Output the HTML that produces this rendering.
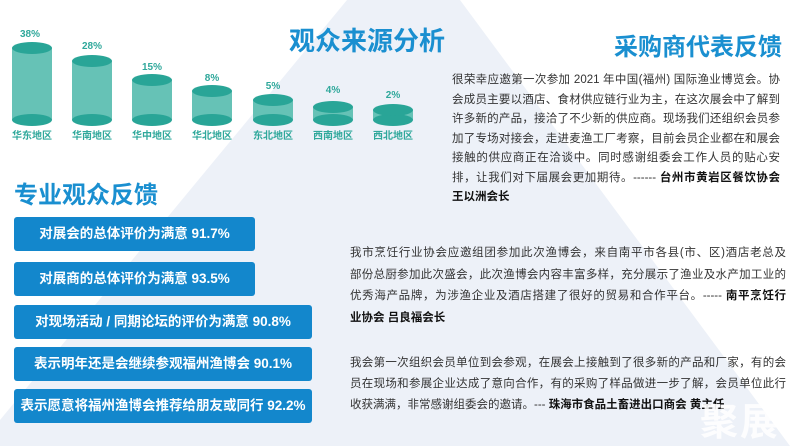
<!DOCTYPE html>
<html><head><meta charset="utf-8"><style>
html,body{margin:0;padding:0;}
body{width:800px;height:446px;overflow:hidden;position:relative;background:#fff;font-family:"Liberation Sans","Noto Sans CJK SC",sans-serif;}
svg{position:absolute;left:0;top:0;}
.t{position:absolute;font-weight:bold;color:#1a8fd0;white-space:nowrap;}
.box{position:absolute;left:14px;height:34px;background:#1387cc;border-radius:3px;color:#fff;font-weight:bold;font-size:13.5px;line-height:34px;text-align:center;}
.p{position:absolute;font-size:11.5px;color:#333;}
.p div{white-space:nowrap;text-align:justify;text-align-last:justify;}
.p div.l{text-align-last:left;}
.p b{color:#111;}
</style></head><body>
<svg width="800" height="446">
<polygon points="347,0 460,0 790,446 0,446 0,420" fill="#edf1f8"/>
<g font-family="Liberation Sans,Noto Sans CJK SC,sans-serif" font-weight="bold" text-anchor="middle">
<g fill="#66c2b6">
<rect x="12" y="48" width="40" height="72"/>
<rect x="72" y="61" width="40" height="59"/>
<rect x="132" y="80" width="40" height="40"/>
<rect x="192" y="91" width="40" height="29"/>
<rect x="253" y="100" width="40" height="20"/>
<rect x="313" y="107" width="40" height="13"/>
<rect x="373" y="110" width="40" height="10"/>
</g>
<g fill="#29a597">
<ellipse cx="32" cy="120" rx="20" ry="6"/><ellipse cx="32" cy="48" rx="20" ry="6"/>
<ellipse cx="92" cy="120" rx="20" ry="6"/><ellipse cx="92" cy="61" rx="20" ry="6"/>
<ellipse cx="152" cy="120" rx="20" ry="6"/><ellipse cx="152" cy="80" rx="20" ry="6"/>
<ellipse cx="212" cy="120" rx="20" ry="6"/><ellipse cx="212" cy="91" rx="20" ry="6"/>
<ellipse cx="273" cy="120" rx="20" ry="6"/><ellipse cx="273" cy="100" rx="20" ry="6"/>
<ellipse cx="333" cy="120" rx="20" ry="6"/><ellipse cx="333" cy="107" rx="20" ry="6"/>
<ellipse cx="393" cy="120" rx="20" ry="6"/><ellipse cx="393" cy="110" rx="20" ry="6"/>
</g>
<g fill="#2fa89b" font-size="10">
<text x="30" y="37">38%</text><text x="92" y="49">28%</text><text x="152" y="70">15%</text>
<text x="212" y="81">8%</text><text x="273" y="89">5%</text><text x="333" y="93">4%</text><text x="393" y="98">2%</text>
</g>
<g fill="#2fa89b" font-size="10">
<text x="32" y="139">华东地区</text><text x="92" y="139">华南地区</text><text x="152" y="139">华中地区</text>
<text x="212" y="139">华北地区</text><text x="273" y="139">东北地区</text><text x="333" y="139">西南地区</text><text x="393" y="139">西北地区</text>
</g>
</g>
</svg>
<div class="t" style="left:289px;top:21px;font-size:26px;">观众来源分析</div>
<div class="t" style="left:614px;top:27px;font-size:24px;">采购商代表反馈</div>
<div class="t" style="left:14px;top:175px;font-size:24px;">专业观众反馈</div>
<div class="box" style="top:217px;width:241px;">对展会的总体评价为满意 91.7%</div>
<div class="box" style="top:262px;width:241px;">对展商的总体评价为满意 93.5%</div>
<div class="box" style="top:305px;width:298px;">对现场活动 / 同期论坛的评价为满意 90.8%</div>
<div class="box" style="top:347px;width:298px;">表示明年还是会继续参观福州渔博会 90.1%</div>
<div class="box" style="top:389px;width:298px;">表示愿意将福州渔博会推荐给朋友或同行 92.2%</div>
<div class="p" style="left:452px;top:71px;width:328px;line-height:19.5px;">
<div>很荣幸应邀第一次参加 2021 年中国(福州) 国际渔业博览会。协</div>
<div>会成员主要以酒店、食材供应链行业为主，在这次展会中了解到</div>
<div>许多新的产品，接洽了不少新的供应商。现场我们还组织会员参</div>
<div>加了专场对接会，走进麦渔工厂考察，目前会员企业都在和展会</div>
<div>接触的供应商正在洽谈中。同时感谢组委会工作人员的贴心安</div>
<div>排，让我们对下届展会更加期待。------ <b>台州市黄岩区餐饮协会</b></div>
<div class="l"><b>王以洲会长</b></div>
</div>
<div class="p" style="left:350px;top:243px;width:436px;line-height:21.7px;">
<div>我市烹饪行业协会应邀组团参加此次渔博会，来自南平市各县(市、区)酒店老总及</div>
<div>部份总厨参加此次盛会，此次渔博会内容丰富多样，充分展示了渔业及水产加工业的</div>
<div>优秀海产品牌，为涉渔企业及酒店搭建了很好的贸易和合作平台。----- <b>南平烹饪行</b></div>
<div class="l"><b>业协会 吕良福会长</b></div>
</div>
<div class="p" style="left:350px;top:353px;width:436px;line-height:21px;">
<div>我会第一次组织会员单位到会参观，在展会上接触到了很多新的产品和厂家，有的会</div>
<div>员在现场和参展企业达成了意向合作，有的采购了样品做进一步了解，会员单位此行</div>
<div class="l">收获满满，非常感谢组委会的邀请。--- <b>珠海市食品土畜进出口商会 黄主任</b></div>
</div>
<div style="position:absolute;left:700px;top:400px;font-size:38px;font-weight:bold;color:#fff;opacity:0.9;letter-spacing:2px;font-family:'Liberation Sans','Noto Sans CJK SC',sans-serif;line-height:46px;">聚展</div>
</body></html>
